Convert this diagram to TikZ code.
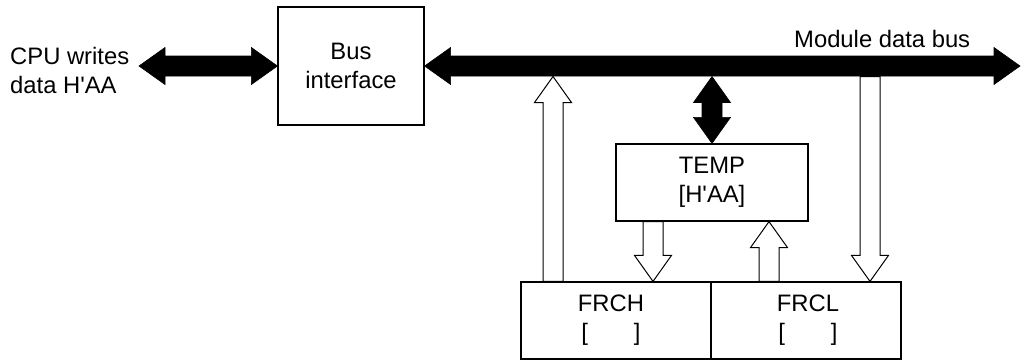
\documentclass[tikz,border=0pt]{standalone}
\usepackage{fontspec}
\setmainfont{Liberation Sans}
\usetikzlibrary{calc}
\newcommand\shafthw{10pt}
\newcommand\headhw{18.5pt}
\newcommand\headlen{26pt}
\newcommand\sq{\textquotesingle}
% single block arrow: style, base, tip
\newcommand\blkarrowS[3]{%
  \coordinate (tmpc) at ($(#3)!\headlen!(#2)$);
  \draw[#1] ($(#2)!\shafthw!90:(#3)$) -- ($(tmpc)!\shafthw!90:(#3)$) --
    ($(tmpc)!\headhw!90:(#3)$) -- (#3) -- ($(tmpc)!\headhw!-90:(#3)$) --
    ($(tmpc)!\shafthw!-90:(#3)$) -- ($(#2)!\shafthw!-90:(#3)$) -- cycle;
}
% double block arrow: style, tip1, tip2
\newcommand\blkarrowD[3]{%
  \coordinate (tmpa) at ($(#2)!\headlen!(#3)$);
  \coordinate (tmpb) at ($(#3)!\headlen!(#2)$);
  \draw[#1] (#2) -- ($(tmpa)!\headhw!90:(#3)$) -- ($(tmpa)!\shafthw!90:(#3)$) --
    ($(tmpb)!\shafthw!90:(#3)$) -- ($(tmpb)!\headhw!90:(#3)$) -- (#3) --
    ($(tmpb)!\headhw!-90:(#3)$) -- ($(tmpb)!\shafthw!-90:(#3)$) --
    ($(tmpa)!\shafthw!-90:(#3)$) -- ($(tmpa)!\headhw!-90:(#3)$) -- cycle;
}
\tikzset{
  txt/.style={font=\fontsize{23.8pt}{29pt}\selectfont},
  regbox/.style={txt, draw=black, line width=1.2pt, inner sep=0pt, align=center},
  lbl/.style={txt, inner sep=0pt},
  solidarrow/.style={fill=black, draw=black, line width=0.6pt, line join=miter},
  hollowarrow/.style={fill=white, draw=black, line width=1pt, line join=miter},
}
\begin{document}
\begin{tikzpicture}[x=1pt,y=-1pt]
\useasboundingbox (0,0) rectangle (1026,360);
% boxes
\node[regbox, minimum width=146pt, minimum height=118pt] (busif) at (351,66) {Bus\\interface};
\node[regbox, minimum width=192pt, minimum height=77pt] (temp) at (712,182.5) {TEMP\\{[H\sq AA]}};
\node[regbox, minimum width=190pt, minimum height=77pt] (frch) at (616,320.5) {};
\node[lbl, align=center] (frcht) at (611,320.5) {FRCH\\{[\hspace{46pt}]}};
\node[regbox, minimum width=190pt, minimum height=77pt] (frcl) at (806,320.5) {};
\node[lbl, align=center] (frclt) at (808,320.5) {FRCL\\{[\hspace{46pt}]}};
% labels
\node[lbl, align=left, anchor=west] (cpu) at (10,70.5) {CPU writes\\data H\sq AA};
\node[lbl, anchor=base west] (mdb) at (794,47) {Module data bus};
% helper coordinates
\coordinate (cpuend) at (139,66);
\coordinate (busend) at (1020,66);
\coordinate (busbot) at (0,76.5);
\coordinate (xa) at (553,0);
\coordinate (xb) at (653,0);
\coordinate (xc) at (769,0);
\coordinate (xd) at (870,0);
\coordinate (xt) at (712,0);
% hollow arrows
\blkarrowS{hollowarrow}{xa |- frch.north}{xa |- busbot}
\blkarrowS{hollowarrow}{xb |- temp.south}{xb |- frch.north}
\blkarrowS{hollowarrow}{xc |- frcl.north}{xc |- temp.south}
\blkarrowS{hollowarrow}{xd |- busbot}{xd |- frcl.north}
% solid arrows
\blkarrowD{solidarrow}{cpuend}{busif.west}
\blkarrowD{solidarrow}{busif.east}{busend}
\blkarrowD{solidarrow}{xt |- busbot}{temp.north}
\end{tikzpicture}
\end{document}
